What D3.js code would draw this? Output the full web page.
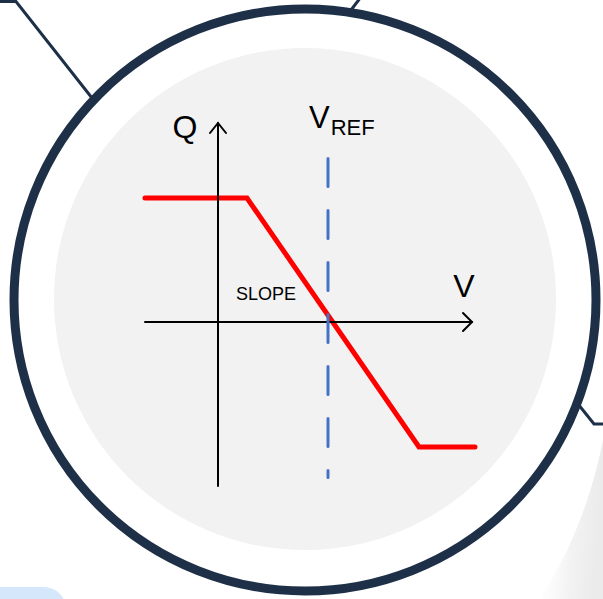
<!DOCTYPE html>
<html>
<head>
<meta charset="utf-8">
<script src="https://cdn.jsdelivr.net/npm/d3@7"></script>
<style>
    body { margin: 0; background: #fff; }
    svg { display: block; }
    text { font-family: "Liberation Sans", Arial, sans-serif; fill: #000; }
</style>
</head>
<body>
<svg id="chart" width="603" height="599"></svg>
<script>
// curve points (V, Q) in chart units, origin at the axes crossing
const curveV = [-0.73, 0.29, 2.01, 2.57];
const curveQ = [1.24, 1.24, -1.25, -1.25];
// axis extents
const vAxis = [-0.73, 2.54];
const qAxis = [-1.64, 1.99];
// reference voltage marker
const vRef = 1.1;
const vRefSpan = [-1.57, 1.65];

const labels = {q: "Q", v: "V", vref: "V", vrefSub: "REF", slope: "SLOPE"};

const svg = d3.select("#chart");

// background decorations
const defs = svg.append("defs");
const grad = defs.append("linearGradient").attr("id", "sheen")
    .attr("x1", 0).attr("y1", 0).attr("x2", 1).attr("y2", 0.2);
grad.append("stop").attr("offset", "0%").attr("stop-color", "#ffffff").attr("stop-opacity", 0);
grad.append("stop").attr("offset", "60%").attr("stop-color", "#f3f3f3");
grad.append("stop").attr("offset", "100%").attr("stop-color", "#ebebeb");

svg.append("path")
    .attr("d", "M603,440 Q585,530 540,599 L603,599 Z")
    .attr("fill", "url(#sheen)");

svg.append("rect")
    .attr("x", -30).attr("y", 587)
    .attr("width", 96).attr("height", 50)
    .attr("rx", 22)
    .attr("fill", "#d4e7fb");

const navy = "#1e3047";
const connectors = [
    [[0, 1.5], [16, 1.5], [92, 98]],
    [[361, -3], [351, 10]],
    [[578, 404], [594, 424], [603, 424]]
];
svg.selectAll(".connector")
    .data(connectors)
    .enter()
    .append("path")
    .attr("class", "connector")
    .attr("d", d3.line())
    .attr("fill", "none")
    .attr("stroke", navy)
    .attr("stroke-width", 3);

const cx = 305, cy = 300;
svg.append("circle")
    .attr("cx", cx).attr("cy", cy).attr("r", 291)
    .attr("fill", "#fff")
    .attr("stroke", navy)
    .attr("stroke-width", 9);

svg.append("circle")
    .attr("cx", cx).attr("cy", cy - 1).attr("r", 251)
    .attr("fill", "#f2f2f2");

// scales
const x = d3.scaleLinear().domain([-1, 3]).range([118, 518]);
const y = d3.scaleLinear().domain([-2, 2]).range([522, 122]);

const g = svg.append("g");

// Q-V curve
const pts = curveV.map((v, i) => [v, curveQ[i]]);
g.append("path")
    .datum(pts)
    .attr("d", d3.line().x(d => x(d[0])).y(d => y(d[1])))
    .attr("fill", "none")
    .attr("stroke", "#ff0000")
    .attr("stroke-width", 5)
    .attr("stroke-linecap", "round")
    .attr("stroke-linejoin", "miter");

// axes with open arrow heads
const axisStyle = sel => sel.attr("fill", "none").attr("stroke", "#000")
    .attr("stroke-width", 2).attr("stroke-linecap", "round");

g.append("line")
    .attr("x1", x(vAxis[0])).attr("x2", x(vAxis[1]))
    .attr("y1", y(0)).attr("y2", y(0))
    .call(axisStyle);
g.append("path")
    .attr("d", d3.line()([[x(vAxis[1]) - 9, y(0) - 9], [x(vAxis[1]), y(0)], [x(vAxis[1]) - 9, y(0) + 9]]))
    .call(axisStyle);

g.append("line")
    .attr("x1", x(0)).attr("x2", x(0))
    .attr("y1", y(qAxis[0])).attr("y2", y(qAxis[1]))
    .call(axisStyle);
g.append("path")
    .attr("d", d3.line()([[x(0) - 8, y(qAxis[1]) + 10], [x(0), y(qAxis[1])], [x(0) + 8, y(qAxis[1]) + 10]]))
    .call(axisStyle);

// VREF dashed marker
g.append("line")
    .attr("x1", x(vRef)).attr("x2", x(vRef))
    .attr("y1", y(vRefSpan[1]) + 1.5).attr("y2", y(vRefSpan[0]) - 1.5)
    .attr("stroke", "#4472c4")
    .attr("stroke-width", 3)
    .attr("stroke-linecap", "round")
    .attr("stroke-dasharray", "28 24");

// labels
g.append("text")
    .attr("x", x(0) - 33).attr("y", y(0) - 184)
    .attr("text-anchor", "middle")
    .attr("font-size", 32)
    .text(labels.q);

g.append("text")
    .attr("x", x(vAxis[1]) - 8).attr("y", y(0) - 25)
    .attr("text-anchor", "middle")
    .attr("font-size", 32)
    .text(labels.v);

const vref = g.append("text")
    .attr("x", x(vRef) - 19).attr("y", y(0) - 194)
    .attr("font-size", 31);
vref.append("tspan").text(labels.vref);
vref.append("tspan").attr("font-size", 22).attr("dx", 1).attr("dy", 7).text(labels.vrefSub);

g.append("text")
    .attr("x", x(0) + 18).attr("y", y(0) - 22)
    .attr("font-size", 18)
    .text(labels.slope);
</script>
</body>
</html>
